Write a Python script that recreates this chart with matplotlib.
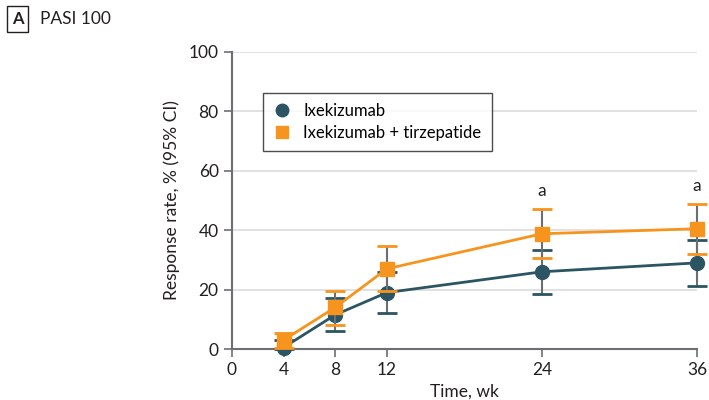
import matplotlib
matplotlib.use("Agg")
import matplotlib.pyplot as plt
from matplotlib.lines import Line2D
import numpy as np

plt.rcParams['font.family'] = ['Lato', 'DejaVu Sans']

weeks = [4, 8, 12, 24, 36]

ixe = [0.5, 11.5, 19.0, 26.0, 29.0]
ixe_lo = [0.0, 6.1, 12.1, 18.5, 21.2]
ixe_hi = [3.0, 17.2, 26.0, 33.3, 36.7]

combo = [3.0, 14.0, 27.0, 38.8, 40.5]
combo_lo = [0.5, 8.1, 19.5, 30.6, 32.0]
combo_hi = [5.4, 19.5, 34.7, 47.1, 48.8]

sig_weeks = [24, 36]
labels = ["Ixekizumab", "Ixekizumab + tirzepatide"]

TEAL = "#2b5563"
ORANGE = "#f7941d"
GRAY = "#6d6e71"
TXT = "#231f20"

fig = plt.figure(figsize=(7.09, 4.0), dpi=100)
ax = fig.add_axes([0.327, 0.1275, 0.656, 0.7425])


def draw(x, y, lo, hi, color, marker, ms, label, z):
    yerr = [np.array(y) - np.array(lo), np.array(hi) - np.array(y)]
    line, caps, bars = ax.errorbar(x, y, yerr=yerr, color=color, marker=marker,
                                   markersize=ms, linewidth=2, ecolor=GRAY,
                                   elinewidth=1.5, capsize=7, capthick=2,
                                   label=label, zorder=z)
    line.set_clip_on(False)
    for c in caps:
        c.set_markeredgecolor(color)
        c.set_color(color)
        c.set_zorder(z)
        c.set_clip_on(False)
    for b in bars:
        b.set_zorder(z - 0.5)
        b.set_clip_on(False)


draw(weeks, ixe, ixe_lo, ixe_hi, TEAL, "o", 10, labels[0], 3)
draw(weeks, combo, combo_lo, combo_hi, ORANGE, "s", 10, labels[1], 4)

for w in sig_weeks:
    i = weeks.index(w)
    ax.text(w, combo_hi[i] + 3.5, "a", ha="center", va="bottom", fontsize=12.5,
            color=TXT, clip_on=False)

ax.set_xlim(0, 36)
ax.set_ylim(0, 100)
ax.set_xticks([0, 4, 8, 12, 24, 36])
ax.set_yticks([0, 20, 40, 60, 80, 100])
ax.tick_params(axis="both", labelsize=12.5, colors=GRAY, labelcolor=TXT,
               length=6, width=1.2, direction="out")
ax.set_xlabel("Time, wk", fontsize=12.5, color=TXT)
ax.set_ylabel("Response rate, % (95% CI)", fontsize=12.5, color=TXT, labelpad=6)
ax.yaxis.grid(True, color="#dcdcdc", linewidth=1.2)
ax.set_axisbelow(True)
for s in ["top", "right"]:
    ax.spines[s].set_visible(False)
for s in ["left", "bottom"]:
    ax.spines[s].set_color(GRAY)
    ax.spines[s].set_linewidth(1.5)

handles = [Line2D([], [], color=TEAL, marker="o", linestyle="none", markersize=9),
           Line2D([], [], color=ORANGE, marker="s", linestyle="none", markersize=9)]
leg = ax.legend(handles, labels, loc="upper left", bbox_to_anchor=(0.05, 0.89),
                fontsize=12, frameon=True, fancybox=False, edgecolor=TXT,
                handlelength=1.0, handletextpad=0.8, borderpad=0.6, labelspacing=0.35)
leg.get_frame().set_linewidth(1.0)

fig.text(0.025, 0.953, "A", fontsize=12, fontweight="bold", ha="center", va="center",
         color=TXT,
         bbox=dict(boxstyle="square,pad=0.3", facecolor="white", edgecolor=TXT, linewidth=1))
fig.text(0.056, 0.953, "PASI 100", fontsize=12.5, ha="left", va="center", color=TXT)

fig.savefig("out.png", dpi=100)
